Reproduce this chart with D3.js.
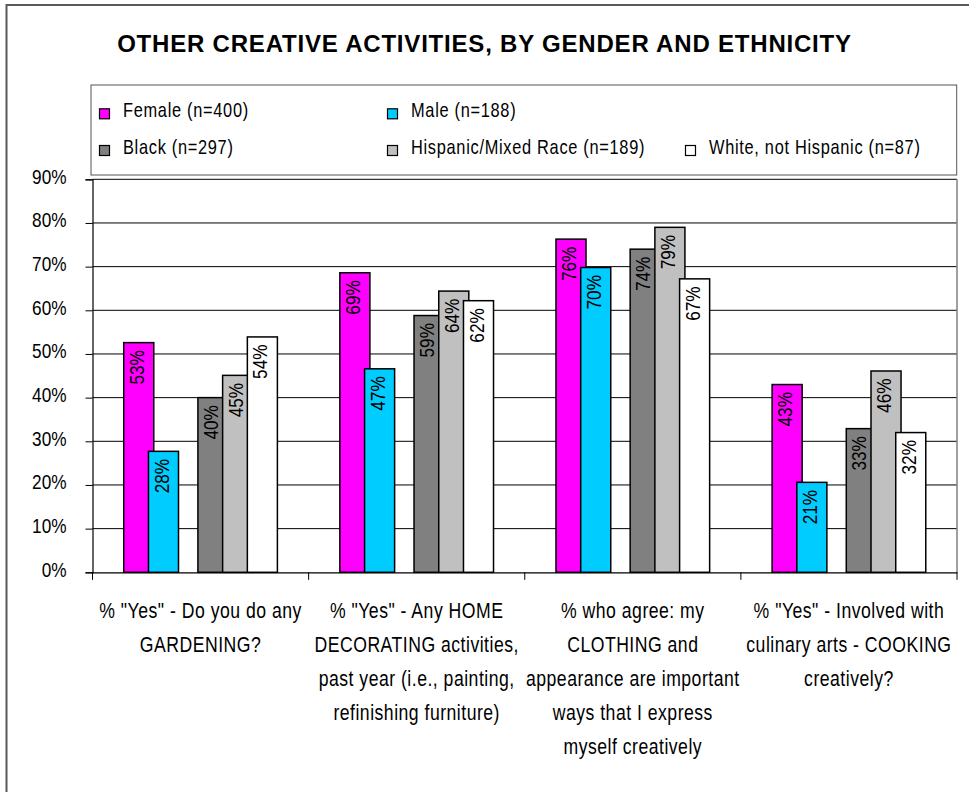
<!DOCTYPE html>
<html>
<head>
<meta charset="utf-8">
<script src="https://cdn.jsdelivr.net/npm/d3@7"></script>
<style>
  html, body { margin: 0; padding: 0; background: #fff; }
  svg { display: block; }
  text { font-family: "Liberation Sans", Arial, sans-serif; }
</style>
</head>
<body>
<div id="chart"></div>
<script>
// ---------- data ----------
const title = "OTHER CREATIVE ACTIVITIES, BY GENDER AND ETHNICITY";
const categories = ["Gardening", "Home decorating", "Clothing", "Cooking"];
const categoryLabels = [
  ['% "Yes" - Do you do any', 'GARDENING?'],
  ['% "Yes" - Any HOME', 'DECORATING activities,', 'past year (i.e., painting,', 'refinishing furniture)'],
  ['% who agree: my', 'CLOTHING and', 'appearance are important', 'ways that I express', 'myself creatively'],
  ['% "Yes" - Involved with', 'culinary arts - COOKING', 'creatively?']
];
const seriesNames = ["Female (n=400)", "Male (n=188)", "Black (n=297)", "Hispanic/Mixed Race (n=189)", "White, not Hispanic (n=87)"];
const female   = [52.6, 68.6, 76.3, 43.0];
const male     = [27.7, 46.6, 69.8, 20.6];
const black    = [40.0, 58.8, 74.0, 32.9];
const hispanic = [45.1, 64.4, 79.0, 46.1];
const white    = [53.9, 62.2, 67.2, 32.0];
const yTicks = [0, 10, 20, 30, 40, 50, 60, 70, 80, 90];

// ---------- styles ----------
const seriesColors = ["#FF00FF", "#00CCFF", "#808080", "#C0C0C0", "#FFFFFF"];
const seriesSlots = [0, 1, 3, 4, 5];   // Excel-style slot, slot 2 left empty
const seriesValues = [female, male, black, hispanic, white];
const SX = 0.82;  // horizontal condensing of text (narrow face look)

const W = 969, H = 792;
const plot = { left: 92.5, right: 957, top: 179.3, bottom: 572.3 };

const svg = d3.select("#chart").append("svg").attr("width", W).attr("height", H);

// outer frame
svg.append("rect").attr("x", 6.5).attr("y", 5).attr("width", 980).attr("height", 800)
  .attr("fill", "#fff").attr("stroke", "#595959").attr("stroke-width", 2);

// title
svg.append("text").attr("x", 484.5).attr("y", 51.7).attr("text-anchor", "middle")
  .attr("font-weight", "bold")
  .attr("font-size", 24).attr("letter-spacing", 0.8).attr("fill", "#000").text(title);

// legend
const legend = svg.append("g");
legend.append("rect").attr("x", 91).attr("y", 85).attr("width", 865.7).attr("height", 90)
  .attr("fill", "#fff").attr("stroke", "#555").attr("stroke-width", 1);
const legendPos = [[99, 117.3], [387, 117.3], [99, 154], [387, 154], [685, 154]];
seriesNames.forEach((name, i) => {
  const [lx, ly] = legendPos[i];
  legend.append("rect").attr("x", lx + 0.5).attr("y", ly - 8.5).attr("width", 10).attr("height", 10)
    .attr("fill", seriesColors[i]).attr("stroke", "#000").attr("stroke-width", 1.2);
  legend.append("text").attr("transform", `translate(${lx + 24},${ly}) scale(${SX},1)`)
    .attr("font-size", 20).attr("letter-spacing", 0.85).attr("fill", "#000").text(name);
});

// scales
const x0 = d3.scaleBand().domain(categories).range([plot.left, plot.right]).paddingInner(0).paddingOuter(0);
const y = d3.scaleLinear().domain([0, 90]).range([plot.bottom, plot.top]);
const bw = x0.bandwidth();
const barW = bw * 0.139;
const step = barW * 0.823;
const clusterW = 5 * step + barW;
const offset = (bw - clusterW) / 2;

// gridlines
svg.append("g").selectAll("line").data(yTicks.filter(d => d > 0)).join("line")
  .attr("x1", plot.left).attr("x2", plot.right)
  .attr("y1", d => y(d)).attr("y2", d => y(d))
  .attr("stroke", "#000").attr("stroke-width", 1);
// plot right border
svg.append("line").attr("x1", plot.right).attr("x2", plot.right)
  .attr("y1", plot.top).attr("y2", plot.bottom).attr("stroke", "#808080").attr("stroke-width", 1.5);

// y axis
const yAxis = svg.append("g").attr("transform", `translate(${plot.left},0)`)
  .call(d3.axisLeft(y).tickValues(yTicks).tickSize(7).tickPadding(19).tickFormat(d => d + "%"));
yAxis.select(".domain").attr("stroke", "#000").attr("stroke-width", 1.2);
yAxis.selectAll(".tick line").attr("stroke", "#000");
yAxis.selectAll(".tick text").attr("x", 0).attr("transform", `translate(-26,0) scale(${SX},1)`)
  .attr("font-size", 21).attr("font-family", null)
  .attr("fill", "#000").attr("dy", "0.19em");
yAxis.attr("font-family", null);

// x axis
const xAxis = svg.append("g").attr("transform", `translate(0,${plot.bottom})`)
  .call(d3.axisBottom(x0).tickSize(0).tickFormat(""));
xAxis.select(".domain").attr("stroke", "#000").attr("stroke-width", 1.2);
const boundaries = categories.map(c => x0(c)).concat([x0.range()[1]]);
xAxis.append("g").selectAll("line").data(boundaries).join("line")
  .attr("x1", d => d).attr("x2", d => d).attr("y1", 0).attr("y2", 7.5)
  .attr("stroke", "#000").attr("stroke-width", 1);

// category labels
categories.forEach((c, i) => {
  const t = svg.append("text").attr("text-anchor", "middle")
    .attr("transform", `translate(${x0(c) + bw / 2},0) scale(${SX},1)`)
    .attr("font-size", 21.5).attr("letter-spacing", 0.6).attr("fill", "#000");
  categoryLabels[i].forEach((line, j) => {
    t.append("tspan").attr("x", 0).attr("y", 617.7 + j * 34.2).text(line);
  });
});

// bars
const barsG = svg.append("g");
const labelsG = svg.append("g");
seriesValues.forEach((vals, s) => {
  const bx = c => x0(c) + offset + seriesSlots[s] * step;
  barsG.append("g").selectAll("rect").data(categories.map((c, i) => ({ c, v: vals[i] }))).join("rect")
    .attr("x", d => bx(d.c)).attr("y", d => y(d.v))
    .attr("width", barW).attr("height", d => y(0) - y(d.v))
    .attr("fill", seriesColors[s]).attr("stroke", "#000").attr("stroke-width", 1.5);
  labelsG.append("g").selectAll("text").data(categories.map((c, i) => ({ c, v: vals[i] }))).join("text")
    .attr("transform", d => `translate(${bx(d.c) + barW / 2},${y(d.v) + 7.5}) rotate(-90) scale(${SX},1)`)
    .attr("text-anchor", "end").attr("dy", "0.24em")
    .attr("font-size", 21).attr("fill", "#000")
    .text(d => Math.round(d.v) + "%");
});
</script>
</body>
</html>
